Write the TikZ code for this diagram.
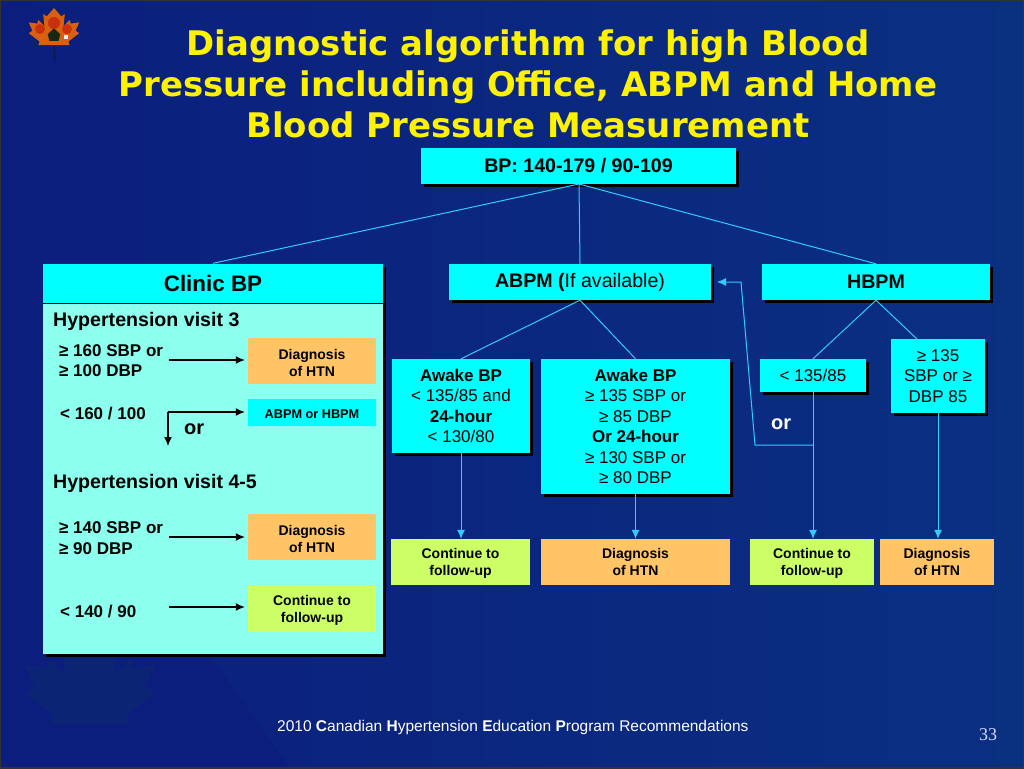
\documentclass[tikz,border=0pt]{standalone}
\usepackage{fontspec}
\setmainfont{Liberation Sans}
\newfontfamily\titlefont{DejaVu Sans}
\newfontfamily\pagefont{Liberation Serif}
\usetikzlibrary{shadows,arrows.meta}
\definecolor{cyanbox}{HTML}{00FFFF}
\definecolor{panel}{HTML}{8CFFEE}
\definecolor{orangebox}{HTML}{FFC466}
\definecolor{limebox}{HTML}{CCFF66}
\definecolor{linecy}{HTML}{33CCFF}
\definecolor{bgl}{HTML}{0B1E7E}
\definecolor{bgr}{HTML}{0A3080}
\definecolor{leaff}{HTML}{0B2474}
\definecolor{leaft}{HTML}{D9600F}
\definecolor{leafr}{HTML}{C8300F}
\definecolor{leafd}{HTML}{152A10}
\definecolor{stemc}{HTML}{0A1A50}
\newcommand{\tp}{\rule{0pt}{13.5pt}}
\tikzset{
  x=1pt,y=-1pt,
  shad/.style={general shadow={shadow xshift=3pt,shadow yshift=-3pt,fill=black,opacity=1}},
  cybox/.style={fill=cyanbox,shad,align=center,text=black,font=\fontsize{17}{20.5}\selectfont},
  small/.style={align=center,text=black,font=\bfseries\fontsize{14}{17.3}\selectfont},
  orbox/.style={fill=orangebox,small},
  libox/.style={fill=limebox,small},
  lab/.style={anchor=base west,inner sep=0pt,text=black,font=\bfseries\fontsize{17}{20}\selectfont},
  head/.style={anchor=base west,inner sep=0pt,text=black,font=\bfseries\fontsize{19.6}{22}\selectfont},
  conn/.style={draw=linecy,line width=1pt},
  connarrow/.style={conn,-{Latex[length=9pt,width=8pt]}},
  blk/.style={draw=black,line width=1.2pt,-{Latex[length=9pt,width=8pt]}},
}
\newcommand{\mapleleaf}{(0,-20) -- (6,-13) -- (9,-15) -- (8,-5) -- (13,-10) -- (14,-7) -- (21,-8) -- (18,-1) -- (21,1) -- (12,8) -- (13,11) -- (-13,11) -- (-12,8) -- (-21,1) -- (-18,-1) -- (-21,-8) -- (-14,-7) -- (-13,-10) -- (-8,-5) -- (-9,-15) -- (-6,-13) -- cycle}
\begin{document}
\begin{tikzpicture}
\useasboundingbox (0,0) rectangle (1024,768);
\fill[left color=bgl,right color=bgr] (0,0) rectangle (1024,768);
\fill[bgl] (0,650) -- (206,650) -- (290,768) -- (0,768) -- cycle;
\draw[black!80,line width=2pt] (0,0) rectangle (1024,768);
% faint leaf
\begin{scope}[shift={(90,690)},scale=3.1]
\fill[leaff] \mapleleaf;
\end{scope}
% top leaf
\draw[stemc,line width=1.2pt] (54,36) -- (55,62);
\begin{scope}[shift={(54,32)}]
\fill[leaft,scale=1.2] \mapleleaf;
\fill[leafr] (-14,-3) circle[radius=5];
\fill[leafr] (0,-9) circle[radius=6];
\fill[leafr] (13,-3) circle[radius=5];
\fill[leafd,scale=.45] (0,-8) -- (14,5) -- (10,20) -- (-10,20) -- (-14,5) -- cycle;
\fill[white!85!gray] (10,3) rectangle (14,7);
\end{scope}
% title
\node[text=yellow,align=center,inner sep=0pt,font=\titlefont\bfseries\fontsize{33.9}{41}\selectfont] (title) at (528,84) {Diagnostic algorithm for high Blood\\Pressure including Office, ABPM and Home\\Blood Pressure Measurement};
% top row
\node[cybox,minimum width=315pt,minimum height=36pt,inner sep=0pt,font=\bfseries\fontsize{19.6}{22}\selectfont] (bp) at (578.5,166) {BP: 140-179 / 90-109};
\node[fill=panel,shad,minimum width=340pt,minimum height=390.5pt,inner sep=0pt] (clinic) at (213,458.75) {};
\node[fill=cyanbox,minimum width=340pt,minimum height=40pt,inner sep=0pt,font=\bfseries\fontsize{22.4}{26}\selectfont] (clinichead) at (213,283.5) {Clinic BP};
\draw[black,line width=1.2pt] (clinichead.south west) -- (clinichead.south east);
\node[cybox,minimum width=262pt,minimum height=36pt,inner sep=0pt,font=\fontsize{19.6}{22}\selectfont] (abpm) at (580,282) {\textbf{ABPM (}If available)};
\node[cybox,minimum width=228pt,minimum height=36pt,inner sep=0pt,font=\bfseries\fontsize{19.6}{22}\selectfont] (hbpm) at (876,282) {HBPM};
% second row
\node[cybox,minimum width=138pt,minimum height=94pt,inner sep=0pt] (aw1) at (461,406) {\textbf{Awake BP}\\< 135/85 and\\\textbf{24-hour}\\< 130/80};
\node[cybox,minimum width=189pt,minimum height=135pt,inner sep=0pt] (aw2) at (635.5,426.5) {\textbf{Awake BP}\\≥ 135 SBP or\\≥ 85 DBP\\\textbf{Or 24-hour}\\≥ 130 SBP or\\≥ 80 DBP};
\node[cybox,minimum width=106pt,minimum height=33pt,inner sep=0pt] (lt) at (813,375.5) {< 135/85};
\node[cybox,minimum width=94pt,minimum height=74pt,inner sep=0pt] (ge) at (938,376) {≥ 135\\SBP or ≥\\DBP 85};
% result row
\node[libox,minimum width=139pt,minimum height=46pt,inner sep=0pt] (c1) at (460.5,562) {\tp Continue to\\follow-up};
\node[orbox,minimum width=189pt,minimum height=46pt,inner sep=0pt] (d1) at (635.5,562) {Diagnosis\\of HTN};
\node[libox,minimum width=124pt,minimum height=46pt,inner sep=0pt] (c2) at (812,562) {\tp Continue to\\follow-up};
\node[orbox,minimum width=114pt,minimum height=46pt,inner sep=0pt] (d2) at (937,562) {Diagnosis\\of HTN};
% connectors
\coordinate (bps) at (579,184);
\coordinate (gei) at (917,339);
\draw[conn] (bps) -- (clinichead.north);
\draw[conn] (bps) -- (abpm.north);
\draw[conn] (bps) -- (hbpm.north);
\draw[conn] (abpm.south) -- (aw1.north);
\draw[conn] (abpm.south) -- (aw2.north);
\draw[conn] (hbpm.south) -- (lt.north);
\draw[conn] (hbpm.south) -- (gei);
\draw[connarrow] (aw1.south) -- (aw1.south |- c1.north);
\draw[connarrow] (aw2.south) -- (aw2.south |- d1.north);
\draw[connarrow] (lt.south) -- (lt.south |- c2.north);
\draw[connarrow] (ge.south) -- (ge.south |- d2.north);
\coordinate (jn) at (813,445);
\coordinate (k1) at (755,445);
\coordinate (k2) at (741,282);
\coordinate (tip) at (717,282);
\draw[connarrow] (jn) -- (k1) -- (k2) -- (tip);
\node[anchor=base west,inner sep=0pt,text=white,font=\bfseries\fontsize{20}{22}\selectfont] (ortxt) at (771,429) {or};
% panel text
\node[head] (v3) at (53,326) {Hypertension visit 3};
\node[lab] (s1) at (59,356) {≥ 160 SBP or};
\node[lab] (s2) at (59,376) {≥ 100 DBP};
\node[lab] (s3) at (60,419) {< 160 / 100};
\node[anchor=base west,inner sep=0pt,text=black,font=\bfseries\fontsize{20}{22}\selectfont] (or2) at (184,434) {or};
\node[head] (v4) at (53,488) {Hypertension visit 4-5};
\node[lab] (s4) at (59,533) {≥ 140 SBP or};
\node[lab] (s5) at (59,554) {≥ 90 DBP};
\node[lab] (s6) at (60,617) {< 140 / 90};
\node[orbox,minimum width=128pt,minimum height=46pt,inner sep=0pt] (pd1) at (312,361) {\tp Diagnosis\\of HTN};
\node[fill=cyanbox,small,font=\bfseries\fontsize{12.7}{14}\selectfont,minimum width=128pt,minimum height=27pt,inner sep=0pt] (pa) at (312,412.5) {\rule{0pt}{11.5pt}ABPM or HBPM};
\node[orbox,minimum width=128pt,minimum height=46pt,inner sep=0pt] (pd2) at (312,537) {\tp Diagnosis\\of HTN};
\node[libox,minimum width=128pt,minimum height=47pt,inner sep=0pt] (pc) at (312,608.5) {\tp Continue to\\follow-up};
\coordinate (a1) at (169,360);
\coordinate (a2) at (168,412);
\coordinate (a3) at (168,446);
\coordinate (a4) at (169,537);
\coordinate (a5) at (169,607);
\draw[blk,shorten >=3pt] (a1) -- (pd1.west |- a1);
\draw[blk,shorten >=3pt] (a2) -- (pa.west |- a2);
\draw[blk] (a2) -- (a3);
\draw[blk,shorten >=3pt] (a4) -- (pd2.west |- a4);
\draw[blk,shorten >=3pt] (a5) -- (pc.west |- a5);
% footer
\node[anchor=base west,inner sep=0pt,text=white,font=\fontsize{15.5}{18}\selectfont] (foot) at (277,731) {2010 \textbf{C}anadian \textbf{H}ypertension \textbf{E}ducation \textbf{P}rogram Recommendations};
\node[anchor=base west,inner sep=0pt,text=white!85!blue,font=\pagefont\fontsize{18}{20}\selectfont] (pg) at (979,740) {33};
\end{tikzpicture}
\end{document}
